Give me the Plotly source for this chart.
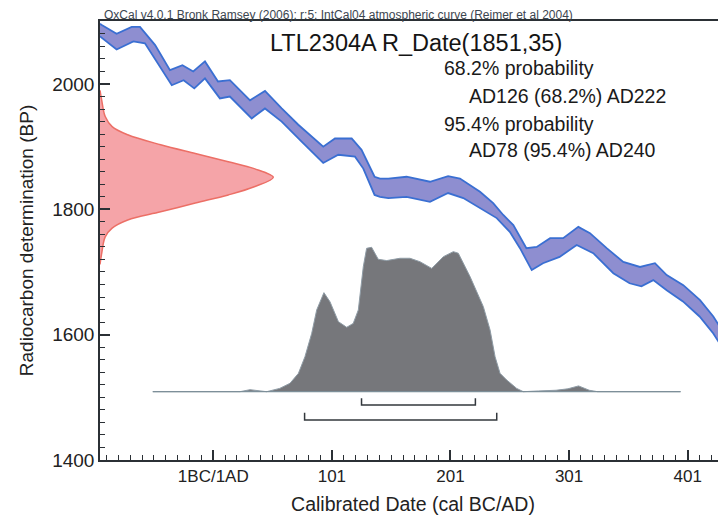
import plotly.graph_objects as go

# ---------------- data ----------------
# IntCal04 calibration band (upper / lower edge), calendar year vs BP
upper_yr = [-94.5, -93, -80.5, -67.8, -60.8, -48, -35.5, -25, -15.9, -6, 5, 15, 32, 44.6, 58.7,
            72.7, 93.7, 103.6, 117.7, 126, 137, 141.6, 148.6, 164, 183.7, 199, 209, 225.9, 237,
            245.5, 254, 265, 273.7, 285, 296, 308.8, 318.6, 332.7, 346.7, 360.8, 373.4, 383.3,
            397.3, 411.4, 422.6, 433.3]
upper_bp = [2096, 2094, 2080, 2091, 2091, 2062, 2022, 2030, 2020, 2036, 2004, 2006, 1974, 1989, 1961,
            1935, 1900, 1913, 1913, 1895, 1852, 1849, 1849, 1852, 1844, 1853, 1849, 1828, 1810,
            1791, 1775, 1738, 1740, 1754, 1754, 1772, 1762, 1738, 1716, 1708, 1714, 1695,
            1679, 1655, 1629, 1597]
lower_yr = [-94.5, -93, -80.5, -66.4, -56.6, -34, -24, -15, -6, 6.6, 15, 33.4, 44.6, 58.7, 75.5,
            93.7, 106.4, 120.5, 127.5, 137, 141.6, 148.6, 164, 183.7, 199, 211.8, 225.9, 240, 251,
            259.6, 269.5, 279, 293, 307.4, 321.4, 338.3, 352, 362, 372, 383.3, 397, 411, 422.6,
            433.3]
lower_bp = [2076, 2073, 2055, 2068, 2065, 1998, 2006, 1993, 2009, 1977, 1980, 1945, 1961, 1940, 1908,
            1874, 1887, 1884, 1865, 1823, 1820, 1818, 1820, 1812, 1826, 1818, 1802, 1786, 1764,
            1738, 1703, 1714, 1724, 1743, 1730, 1698, 1682, 1677, 1687, 1671, 1653, 1629, 1602,
            1570]

# Radiocarbon measurement R_Date(1851,35): BP vs relative probability
red_bp = [1990, 1974, 1948, 1932, 1919, 1903, 1889, 1876, 1865, 1851, 1836, 1823, 1810, 1796,
          1783, 1770, 1756, 1730, 1712]
red_p = [0, 0.01, 0.03, 0.07, 0.16, 0.35, 0.55, 0.74, 0.89, 1.0, 0.89, 0.74, 0.55, 0.35,
         0.16, 0.07, 0.03, 0.01, 0]

# Calibrated probability distribution: calendar year vs relative probability
cal_yr = [-50, 23.5, 32, 36, 46, 57, 65.7, 72.8, 78.3, 84, 88.2, 94.3, 99.4, 106.5, 113.5, 119,
          123.3, 127.5, 130.3, 134.5, 140.1, 147.2, 158.4, 166.9, 175.3, 185.2, 195, 203.4, 207.6,
          217.5, 228.7, 234.4, 238.6, 242.8, 248.4, 256.8, 262.4, 275, 290, 300, 309, 318, 325, 395]
cal_p = [0, 0, 0.014, 0.01, 0, 0.023, 0.058, 0.127, 0.242, 0.404, 0.566, 0.686, 0.623, 0.485,
         0.446, 0.473, 0.566, 0.866, 0.993, 1.0, 0.917, 0.908, 0.924, 0.924, 0.9, 0.854, 0.935,
         0.97, 0.959, 0.797, 0.589, 0.427, 0.242, 0.127, 0.081, 0.023, 0, 0.005, 0.01, 0.02,
         0.04, 0.01, 0, 0]

# Highest probability ranges
range68 = [126, 222]
range95 = [78, 240]

x_tickvals = [1, 101, 201, 301, 401]
x_ticktext = ["1BC/1AD", "101", "201", "301", "401"]
y_tickvals = [1400, 1600, 1800, 2000]

header = "OxCal v4.0.1 Bronk Ramsey (2006); r:5; IntCal04 atmospheric curve (Reimer et al 2004)"
title = "LTL2304A R_Date(1851,35)"
info_lines = ["68.2% probability", "AD126 (68.2%) AD222", "95.4% probability", "AD78 (95.4%) AD240"]

# ---------------- layout geometry (page pixels) ----------------
PAGE_W, PAGE_H = 726, 528
BODY = 8                      # default <body> margin of the html page
W, H = PAGE_W - BODY, PAGE_H - BODY
L, R, T, B = 100, 726, 21, 460  # plot area in page pixels
PW, PH = R - L, B - T
FONT = "Liberation Sans, Arial, Helvetica, sans-serif"
AX = "#2b3035"


def xp(px):
    return (px - L) / PW


def yp(py):
    return (B - py) / PH


# secondary y axis for calibrated distribution: baseline at py 391.7, peak at py 247.3
f0, f1 = yp(391.7), yp(247.3)
span2 = 1 / (f1 - f0)
y2_range = [-f0 * span2, (1 - f0) * span2]


def y2(py):
    return y2_range[0] + yp(py) * span2


fig = go.Figure()

# calibration band
fig.add_trace(go.Scatter(
    x=upper_yr + lower_yr[::-1], y=upper_bp + lower_bp[::-1],
    fill="toself", fillcolor="#8e8ed0", mode="lines",
    line=dict(color="#3a6fd2", width=1.8), hoverinfo="skip"))

# radiocarbon measurement distribution on the y axis
fig.add_trace(go.Scatter(
    x=red_p, y=red_bp, xaxis="x2", yaxis="y", fill="tozerox", fillcolor="#f5a4a8",
    mode="lines", line=dict(color="#ec6f66", width=1.5, shape="spline"), hoverinfo="skip"))

# calibrated distribution
fig.add_trace(go.Scatter(
    x=cal_yr, y=cal_p, xaxis="x", yaxis="y2", fill="tozeroy", fillcolor="#76777b",
    mode="lines", line=dict(color="#8f9ca6", width=1), hoverinfo="skip"))
fig.add_trace(go.Scatter(
    x=[cal_yr[0], cal_yr[-1]], y=[0, 0], xaxis="x", yaxis="y2", mode="lines",
    line=dict(color="#7d8f99", width=1.3), hoverinfo="skip"))

# range brackets
for rng, py_bar, py_end in [(range68, 405, 398.3), (range95, 420, 412.7)]:
    fig.add_trace(go.Scatter(
        x=[rng[0], rng[0], rng[1], rng[1]],
        y=[y2(py_end), y2(py_bar), y2(py_bar), y2(py_end)],
        xaxis="x", yaxis="y2", mode="lines",
        line=dict(color="#33383d", width=1.5), hoverinfo="skip"))

annotations = [
    dict(text=header, x=xp(102), y=yp(15.0), xref="paper", yref="paper",
         xanchor="left", yanchor="middle", showarrow=False,
         font=dict(family=FONT, size=12, color="#3c4650")),
    dict(text=title, x=xp(268), y=yp(43.4), xref="paper", yref="paper",
         xanchor="left", yanchor="middle", showarrow=False,
         font=dict(family=FONT, size=23.5, color="#141414")),
]
for txt, px, py in zip(info_lines, [441.7, 466.7, 441.7, 466.7], [68.3, 96.2, 123.5, 150.2]):
    annotations.append(dict(text=txt, x=xp(px), y=yp(py), xref="paper", yref="paper",
                            xanchor="left", yanchor="middle", showarrow=False,
                            font=dict(family=FONT, size=19.5, color="#1a1a1a")))

fig.update_layout(
    width=W, height=H,
    margin=dict(l=L - BODY, r=PAGE_W - R, t=T - BODY, b=PAGE_H - B, autoexpand=False),
    paper_bgcolor="white", plot_bgcolor="white",
    showlegend=False,
    font=dict(family=FONT, color="#222"),
    xaxis=dict(
        range=[-94.5, 433.3], tickvals=x_tickvals, ticktext=x_ticktext,
        ticks="inside", ticklen=10, tickwidth=1.5, tickcolor=AX,
        showline=True, linecolor=AX, linewidth=1.5, mirror=True,
        showgrid=False, zeroline=False, automargin=False,
        tickfont=dict(family=FONT, size=17, color="#222"),
        minor=dict(dtick=10, tick0=1, ticks="inside", ticklen=5, tickwidth=1, tickcolor=AX),
        title=dict(text="Calibrated Date (cal BC/AD)", font=dict(family=FONT, size=19.5, color="#222"),
                   standoff=12)),
    xaxis2=dict(overlaying="x", anchor="y", range=[0, PW / 173.3], visible=False),
    yaxis=dict(
        range=[1400, 2100.5], tickvals=y_tickvals,
        ticks="inside", ticklen=10, tickwidth=1.5, tickcolor=AX,
        showline=True, linecolor=AX, linewidth=1.5,
        showgrid=False, zeroline=False, automargin=False,
        tickfont=dict(family=FONT, size=19, color="#222"),
        minor=dict(dtick=20, tick0=1400, ticks="inside", ticklen=5, tickwidth=1, tickcolor=AX),
        title=dict(text="Radiocarbon determination (BP)", font=dict(family=FONT, size=19, color="#222"),
                   standoff=14)),
    yaxis2=dict(overlaying="y", anchor="x", range=y2_range, visible=False),
    annotations=annotations,
)

fig.write_html("out.html")
